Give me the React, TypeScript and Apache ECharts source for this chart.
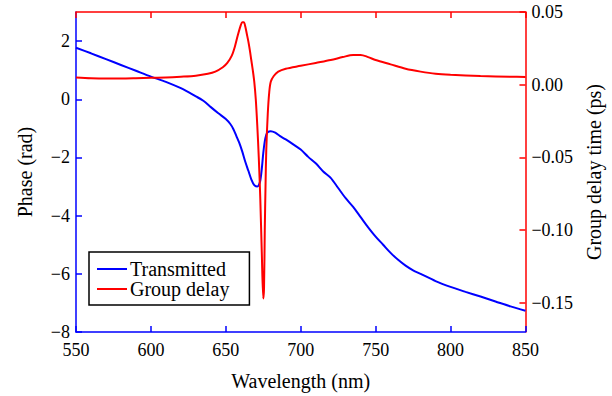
import React, { useEffect, useRef } from "react";
import * as echarts from "echarts";

const phaseX = [550, 560, 570, 580, 590, 600, 610, 620, 630, 635, 640, 645, 650, 653, 655, 657, 659, 661, 663, 665, 667, 669, 671, 672, 673, 674, 675, 676, 677, 678, 680, 683, 686, 690, 695, 700, 705, 710, 715, 720, 725, 730, 735, 740, 745, 750, 755, 760, 765, 770, 775, 780, 790, 800, 810, 820, 830, 840, 850];
const phaseY = [1.77, 1.58, 1.38, 1.18, 0.98, 0.78, 0.6, 0.38, 0.1, -0.05, -0.27, -0.48, -0.68, -0.85, -1.02, -1.26, -1.5, -1.8, -2.15, -2.45, -2.75, -2.95, -3.0, -2.95, -2.8, -2.4, -1.85, -1.45, -1.22, -1.13, -1.1, -1.15, -1.26, -1.38, -1.55, -1.73, -1.98, -2.2, -2.48, -2.7, -3.05, -3.4, -3.7, -4.05, -4.4, -4.72, -5.0, -5.28, -5.52, -5.72, -5.88, -6.0, -6.25, -6.45, -6.62, -6.78, -6.95, -7.12, -7.27];

const delayX = [550, 560, 570, 580, 590, 600, 610, 620, 630, 638, 643, 648, 651, 654, 656, 658, 660, 661, 662, 663, 664, 665, 666, 667, 668, 669, 670, 671, 672, 673, 674, 675, 675.5, 676, 676.5, 677, 678, 679, 680, 682, 685, 690, 700, 710, 720, 728, 735, 740, 745, 750, 760, 770, 780, 790, 800, 820, 840, 850];
const delayY = [0.005, 0.0045, 0.0043, 0.0043, 0.0045, 0.0048, 0.005, 0.0055, 0.0062, 0.0075, 0.009, 0.012, 0.015, 0.02, 0.026, 0.034, 0.041, 0.043, 0.043, 0.04, 0.035, 0.03, 0.024, 0.017, 0.01, 0.002, -0.01, -0.028, -0.05, -0.078, -0.115, -0.147, -0.14, -0.1, -0.07, -0.045, -0.02, -0.005, 0.002, 0.006, 0.009, 0.011, 0.013, 0.015, 0.017, 0.019, 0.0205, 0.0205, 0.019, 0.017, 0.014, 0.011, 0.009, 0.0075, 0.0068, 0.006, 0.0055, 0.0053];

const phaseTicks = [-8, -6, -4, -2, 0, 2];
const delayTicks = [-0.15, -0.1, -0.05, 0, 0.05];

const FONT = "Times New Roman, Liberation Serif, DejaVu Serif, serif";
const BLUE = "#0000ff";
const RED = "#ff0000";

const minus = (s: string) => s.replace("-", "\u2212");

export default function App() {
  const ref = useRef<HTMLDivElement>(null);
  useEffect(() => {
    const chart = echarts.init(ref.current!, null, { renderer: "svg" });
    chart.setOption({
      animation: false,
      backgroundColor: "#ffffff",
      textStyle: { fontFamily: FONT },
      grid: { left: 76, right: 86, top: 12, bottom: 62 },
      legend: {
        left: 89,
        top: 252,
        orient: "vertical",
        padding: [7, 20, 6, 8],
        itemGap: 0,
        itemWidth: 30,
        itemHeight: 2,
        borderColor: "#000",
        borderWidth: 1.5,
        borderRadius: 0,
        textStyle: { fontFamily: FONT, fontSize: 20, lineHeight: 17, color: "#000", padding: [0, 0, 0, -2] },
        data: [
          { name: "Transmitted", icon: "rect" },
          { name: "Group delay", icon: "rect" },
        ],
      },
      xAxis: [
        {
          type: "value",
          min: 550,
          max: 850,
          interval: 50,
          position: "bottom",
          axisLine: { onZero: false, lineStyle: { color: BLUE, width: 1.5 } },
          axisTick: { inside: true, length: 6, lineStyle: { color: BLUE, width: 1.5 } },
          axisLabel: { color: "#000", fontFamily: FONT, fontSize: 18, margin: 9 },
          splitLine: { show: false },
          name: "Wavelength (nm)",
          nameLocation: "middle",
          nameGap: 39,
          nameTextStyle: { color: "#000", fontFamily: FONT, fontSize: 20 },
        },
        {
          type: "value",
          min: 550,
          max: 850,
          interval: 50,
          position: "top",
          axisLine: { onZero: false, lineStyle: { color: RED, width: 1.5 } },
          axisTick: { inside: true, length: 6, lineStyle: { color: RED, width: 1.5 } },
          axisLabel: { show: false },
          splitLine: { show: false },
        },
      ],
      yAxis: [
        {
          type: "value",
          min: -8,
          max: 3,
          position: "left",
          axisLine: { show: true, onZero: false, lineStyle: { color: BLUE, width: 1.5 } },
          axisTick: { show: true, inside: true, length: 6, customValues: phaseTicks, lineStyle: { color: BLUE, width: 1.5 } },
          axisLabel: {
            customValues: phaseTicks,
            color: "#000",
            fontFamily: FONT,
            fontSize: 18,
            margin: 6,
            formatter: (v: number) => minus(String(v)),
          },
          splitLine: { show: false },
          name: "Phase (rad)",
          nameLocation: "middle",
          nameRotate: 90,
          nameGap: 41,
          nameTextStyle: { color: "#000", fontFamily: FONT, fontSize: 20 },
        },
        {
          type: "value",
          min: -0.17,
          max: 0.05,
          position: "right",
          axisLine: { show: true, onZero: false, lineStyle: { color: RED, width: 1.5 } },
          axisTick: { show: true, inside: true, length: 6, customValues: delayTicks, lineStyle: { color: RED, width: 1.5 } },
          axisLabel: {
            customValues: delayTicks,
            color: "#000",
            fontFamily: FONT,
            fontSize: 18,
            margin: 6,
            formatter: (v: number) => minus(v.toFixed(2)),
          },
          splitLine: { show: false },
          name: "Group delay time (ps)",
          nameLocation: "middle",
          nameRotate: 90,
          nameGap: 58,
          nameTextStyle: { color: "#000", fontFamily: FONT, fontSize: 20 },
        },
      ],
      series: [
        {
          name: "Transmitted",
          type: "line",
          xAxisIndex: 0,
          yAxisIndex: 0,
          showSymbol: false,
          smooth: 0.3,
          color: BLUE,
          lineStyle: { color: BLUE, width: 2 },
          data: phaseX.map((x, i) => [x, phaseY[i]]),
        },
        {
          name: "Group delay",
          type: "line",
          xAxisIndex: 0,
          yAxisIndex: 1,
          showSymbol: false,
          smooth: 0.3,
          color: RED,
          lineStyle: { color: RED, width: 2 },
          data: delayX.map((x, i) => [x, delayY[i]]),
        },
      ],
    });
    return () => chart.dispose();
  }, []);
  return <div ref={ref} style={{ position: "fixed", left: 0, top: 0, width: 612, height: 396 }} />;
}
